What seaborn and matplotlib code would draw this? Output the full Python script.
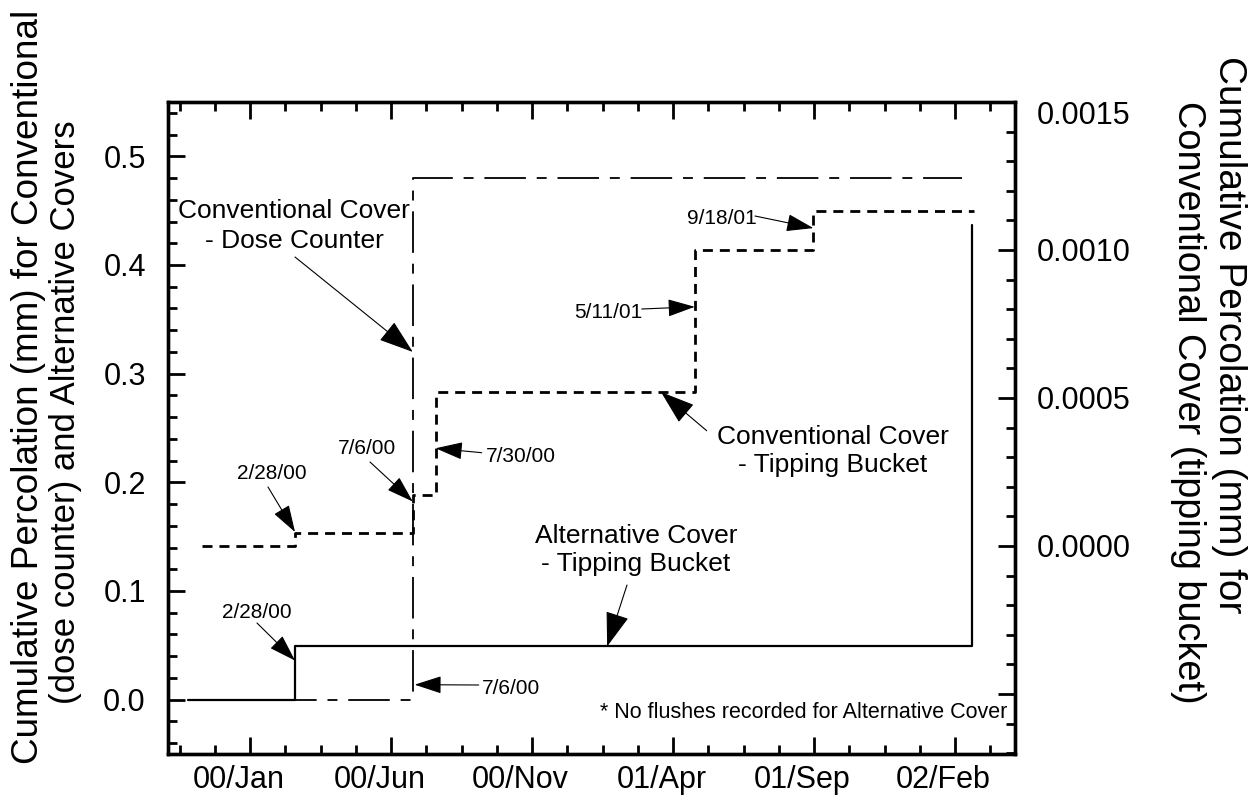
import numpy as np
import pandas as pd
import matplotlib
matplotlib.use("Agg")
import matplotlib.pyplot as plt
import matplotlib.dates as mdates
from matplotlib.ticker import FixedLocator, NullFormatter
from matplotlib.transforms import ScaledTranslation
import seaborn as sns

# ---------------- data ----------------
alt_dates = ["1999-11-03", "2000-02-28", "2002-03-11"]
alt_values = [0.0, 0.049, 0.437]

dose_dates = ["1999-11-18", "2000-07-06", "2002-02-28"]
dose_values = [0.0, 0.48, 0.48]

tb_dates = ["1999-11-18", "2000-02-28", "2000-07-06", "2000-07-31",
            "2001-05-11", "2001-09-18", "2002-03-13"]
tb_values = [0.0, 0.000044, 0.000172, 0.00052, 0.00100, 0.001133, 0.001133]

x_tick_labels = ["00/Jan", "00/Jun", "00/Nov", "01/Apr", "01/Sep", "02/Feb"]
left_ticks = [0.0, 0.1, 0.2, 0.3, 0.4, 0.5]
right_ticks = [-0.0005, 0.0, 0.0005, 0.0010, 0.0015]
right_tick_labels = ["", "0.0000", "0.0005", "0.0010", "0.0015"]

# ---------------- style ----------------
sns.set_theme(style="white")
plt.rcParams["font.family"] = ["Liberation Sans", "DejaVu Sans"]

W, H = 1258, 806
fig = plt.figure(figsize=(W / 100, H / 100), dpi=100)
ax = fig.add_axes([168 / W, (H - 754) / H, 847 / W, 652 / H])
ax2 = ax.twinx()

df_alt = pd.DataFrame({"date": pd.to_datetime(alt_dates), "v": alt_values})
df_dose = pd.DataFrame({"date": pd.to_datetime(dose_dates), "v": dose_values})
df_tb = pd.DataFrame({"date": pd.to_datetime(tb_dates), "v": tb_values})

sns.lineplot(data=df_alt, x="date", y="v", ax=ax, color="black", lw=1.6,
             drawstyle="steps-post", estimator=None, sort=False)
sns.lineplot(data=df_dose, x="date", y="v", ax=ax, color="black", lw=1.3,
             drawstyle="steps-post", estimator=None, sort=False)
ax.lines[-1].set_dashes((23, 6, 5.5, 6))
sns.lineplot(data=df_tb, x="date", y="v", ax=ax2, color="black", lw=2.0,
             drawstyle="steps-post", estimator=None, sort=False)
ax2.lines[-1].set_dashes((3.6, 2.5))

# ---------------- axes ----------------
base = mdates.date2num(pd.Timestamp("2000-01-01"))
ax.set_xlim(base - 81.2, base + 846.9)
major_x = [base + 8.7 + 154.5 * k for k in range(6)]
minor_x = [base + 8.7 + 38.625 * j for j in range(-2, 22)]
ax.xaxis.set_major_locator(FixedLocator(major_x))
ax.xaxis.set_minor_locator(FixedLocator(minor_x))
ax.set_xticklabels(x_tick_labels)
ax.xaxis.set_minor_formatter(NullFormatter())

ax.set_ylim(-0.05, 0.55)
ax.set_yticks(left_ticks)
ax.set_yticklabels([f"{v:.1f}" for v in left_ticks])
ax.yaxis.set_minor_locator(FixedLocator(np.arange(-0.04, 0.55, 0.02)))

ax2.set_ylim(-0.000703, 0.0015)
ax2.set_yticks(right_ticks)
ax2.set_yticklabels(right_tick_labels)
ax2.yaxis.set_minor_locator(FixedLocator(np.arange(-0.0007, 0.00151, 0.0001)))

for a in (ax, ax2):
    a.set_xlabel("")
    a.set_ylabel("")
    a.grid(False)
    for s in a.spines.values():
        s.set_color("black")
        s.set_linewidth(2.4)

ax.tick_params(axis="x", which="both", direction="in", top=True, bottom=True,
               labelsize=22, pad=8, colors="black", width=2.0)
ax.tick_params(axis="y", which="both", direction="in", left=True, right=False,
               labelsize=22, pad=16, colors="black", width=2.0)
ax2.tick_params(axis="y", which="both", direction="in", right=True, left=False,
                labelsize=22, pad=16, colors="black", width=2.0)
for a in (ax, ax2):
    a.tick_params(which="major", length=12)
    a.tick_params(which="minor", length=6.5)

off = ScaledTranslation(-11.5 / 100, 0, fig.dpi_scale_trans)
for lab in ax.get_xticklabels():
    lab.set_transform(lab.get_transform() + off)
top_lab = ax2.get_yticklabels()[-1]
top_lab.set_transform(top_lab.get_transform() + ScaledTranslation(0, -10 / 100, fig.dpi_scale_trans))

# ---------------- axis titles ----------------
def ftext(px, py, s, **kw):
    fig.text(px / W, 1 - py / H, s, ha="center", va="center", color="black", **kw)

ftext(29, 387, "Cumulative Percolation (mm) for Conventional", rotation=90, fontsize=26.6)
ftext(66, 412, "(dose counter) and Alternative Covers", rotation=90, fontsize=25)
ftext(1229, 335, "Cumulative Percolation (mm) for", rotation=270, fontsize=28)
ftext(1188, 402, "Conventional Cover (tipping bucket)", rotation=270, fontsize=27.3)

# ---------------- annotations ----------------
def dnum(s):
    return mdates.date2num(pd.Timestamp(s))

def arrow(a, tip, start, big=False):
    if big:
        style = "-|>,head_length=2.2,head_width=0.75"
    else:
        style = "-|>,head_length=1.7,head_width=0.55"
    a.annotate("", xy=tip, xycoords="data", xytext=(start[0], H - start[1]),
               textcoords="figure pixels",
               arrowprops=dict(arrowstyle=style, lw=0.8, color="black",
                               shrinkA=0, shrinkB=0, mutation_scale=10))

ftext(294, 226, "Conventional Cover\n- Dose Counter", fontsize=19, linespacing=1.35)
arrow(ax, (dnum(dose_dates[1]), 0.32), (295, 257), big=True)

ftext(833, 451, "Conventional Cover\n- Tipping Bucket", fontsize=19, linespacing=1.25)
arrow(ax2, (dnum("2001-04-04"), tb_values[3]), (706.7, 430.7), big=True)

ftext(636, 550, "Alternative Cover\n- Tipping Bucket", fontsize=19, linespacing=1.25)
arrow(ax, (dnum("2001-02-04"), alt_values[1]), (627, 585), big=True)

ftext(272, 473, "2/28/00", fontsize=15)
arrow(ax2, (dnum(tb_dates[1]), 0.000047), (268, 487))

ftext(367, 448, "7/6/00", fontsize=15)
arrow(ax2, (dnum(tb_dates[2]), 0.00015), (370, 462))

ftext(521, 456, "7/30/00", fontsize=15)
arrow(ax2, (dnum(tb_dates[3]), 0.00033), (481.7, 452.7))

ftext(608, 313, "5/11/01", fontsize=15)
arrow(ax2, (dnum(tb_dates[4]), 0.000808), (641.7, 309))

ftext(722, 219, "9/18/01", fontsize=15)
arrow(ax2, (dnum(tb_dates[5]), 0.001074), (755, 216))

ftext(257, 612, "2/28/00", fontsize=15)
arrow(ax, (dnum(alt_dates[1]), 0.036), (257, 623))

ftext(511, 689, "7/6/00", fontsize=15)
arrow(ax, (dnum("2000-07-08"), 0.0138), (478.7, 685))

fig.text(1007 / W, 1 - 713 / H, "* No flushes recorded for Alternative Cover",
         ha="right", va="center", fontsize=15.5, color="black")

fig.savefig("out.png", dpi=100, facecolor="white")
